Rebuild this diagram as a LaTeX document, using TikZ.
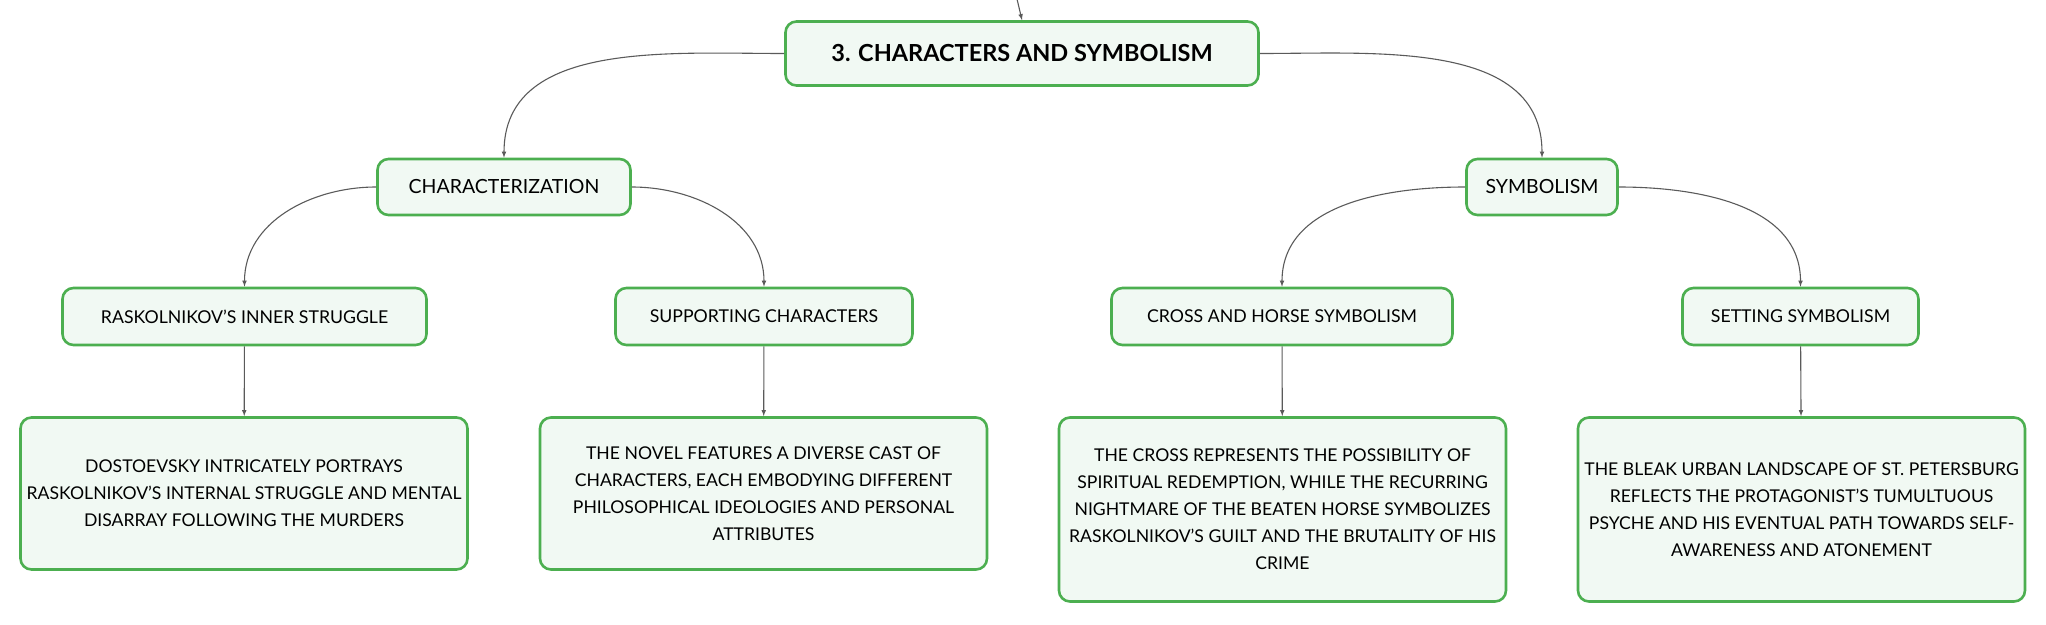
\documentclass[tikz,border=0pt]{standalone}
\usepackage{fontspec}
\setmainfont{Lato}
\usetikzlibrary{arrows.meta}
\definecolor{boxgreen}{HTML}{4CAF50}
\definecolor{boxfill}{HTML}{F1F9F3}
\definecolor{linkgray}{HTML}{5A5A5A}
\begin{document}
\begin{tikzpicture}[x=1pt, y=-1pt,
	mapbox/.style={draw=boxgreen, line width=2.6pt, fill=boxfill, rounded corners=11pt, align=center, inner sep=0pt},
	rootbox/.style={mapbox, minimum width=473, minimum height=64, font=\fontsize{23.5}{28}\selectfont\bfseries},
	topicbox/.style={mapbox, minimum height=56, font=\fontsize{19.5}{24}\selectfont},
	subbox/.style={mapbox, minimum height=57, font=\fontsize{17.7}{21}\selectfont},
	leafbox/.style={mapbox, minimum width=447, font=\fontsize{17.6}{27}\selectfont},
	link/.style={draw=linkgray, line width=1.1pt, arrows={-latex}}]
	\useasboundingbox (0,0) rectangle (2046,624);
	\node [rootbox] (root) at (1022,53.5) {3. CHARACTERS AND SYMBOLISM};
	\node [topicbox, minimum width=253] (charz) at (504,187) {CHARACTERIZATION};
	\node [topicbox, minimum width=151] (symb) at (1542,187) {SYMBOLISM};
	\node [subbox, minimum width=364] (inner) at (244.5,316.5) {RASKOLNIKOV’S INNER STRUGGLE};
	\node [subbox, minimum width=297] (support) at (764,316.5) {SUPPORTING CHARACTERS};
	\node [subbox, minimum width=341] (crosshorse) at (1282,316.5) {CROSS AND HORSE SYMBOLISM};
	\node [subbox, minimum width=236] (setting) at (1800.5,316.5) {SETTING SYMBOLISM};
	\node [leafbox, minimum height=152] (innertext) at (244,493.5) {DOSTOEVSKY INTRICATELY PORTRAYS\\RASKOLNIKOV’S INTERNAL STRUGGLE AND MENTAL\\DISARRAY FOLLOWING THE MURDERS};
	\node [leafbox, minimum height=152] (supporttext) at (763.5,493.5) {THE NOVEL FEATURES A DIVERSE CAST OF\\CHARACTERS, EACH EMBODYING DIFFERENT\\PHILOSOPHICAL IDEOLOGIES AND PERSONAL\\ATTRIBUTES};
	\node [leafbox, minimum height=184] (crosstext) at (1282.5,509.5) {THE CROSS REPRESENTS THE POSSIBILITY OF\\SPIRITUAL REDEMPTION, WHILE THE RECURRING\\NIGHTMARE OF THE BEATEN HORSE SYMBOLIZES\\RASKOLNIKOV’S GUILT AND THE BRUTALITY OF HIS\\CRIME};
	\node [leafbox, minimum height=184] (settingtext) at (1801.5,509.5) {THE BLEAK URBAN LANDSCAPE OF ST. PETERSBURG\\REFLECTS THE PROTAGONIST’S TUMULTUOUS\\PSYCHE AND HIS EVENTUAL PATH TOWARDS SELF-\\AWARENESS AND ATONEMENT};
	\coordinate (above) at (1017,-1);
	\draw [link] (above) -- (root.north);
	\draw [link] (root.west) to [out=180, in=90] (charz.north);
	\draw [link] (root.east) to [out=0, in=90] (symb.north);
	\draw [link] (charz.west) to [out=180, in=90] (inner.north);
	\draw [link] (charz.east) to [out=0, in=90] (support.north);
	\draw [link] (symb.west) to [out=180, in=90] (crosshorse.north);
	\draw [link] (symb.east) to [out=0, in=90] (setting.north);
	\draw [link] (inner) -- (innertext);
	\draw [link] (support) -- (supporttext);
	\draw [link] (crosshorse) -- (crosstext);
	\draw [link] (setting) -- (settingtext);
\end{tikzpicture}
\end{document}
